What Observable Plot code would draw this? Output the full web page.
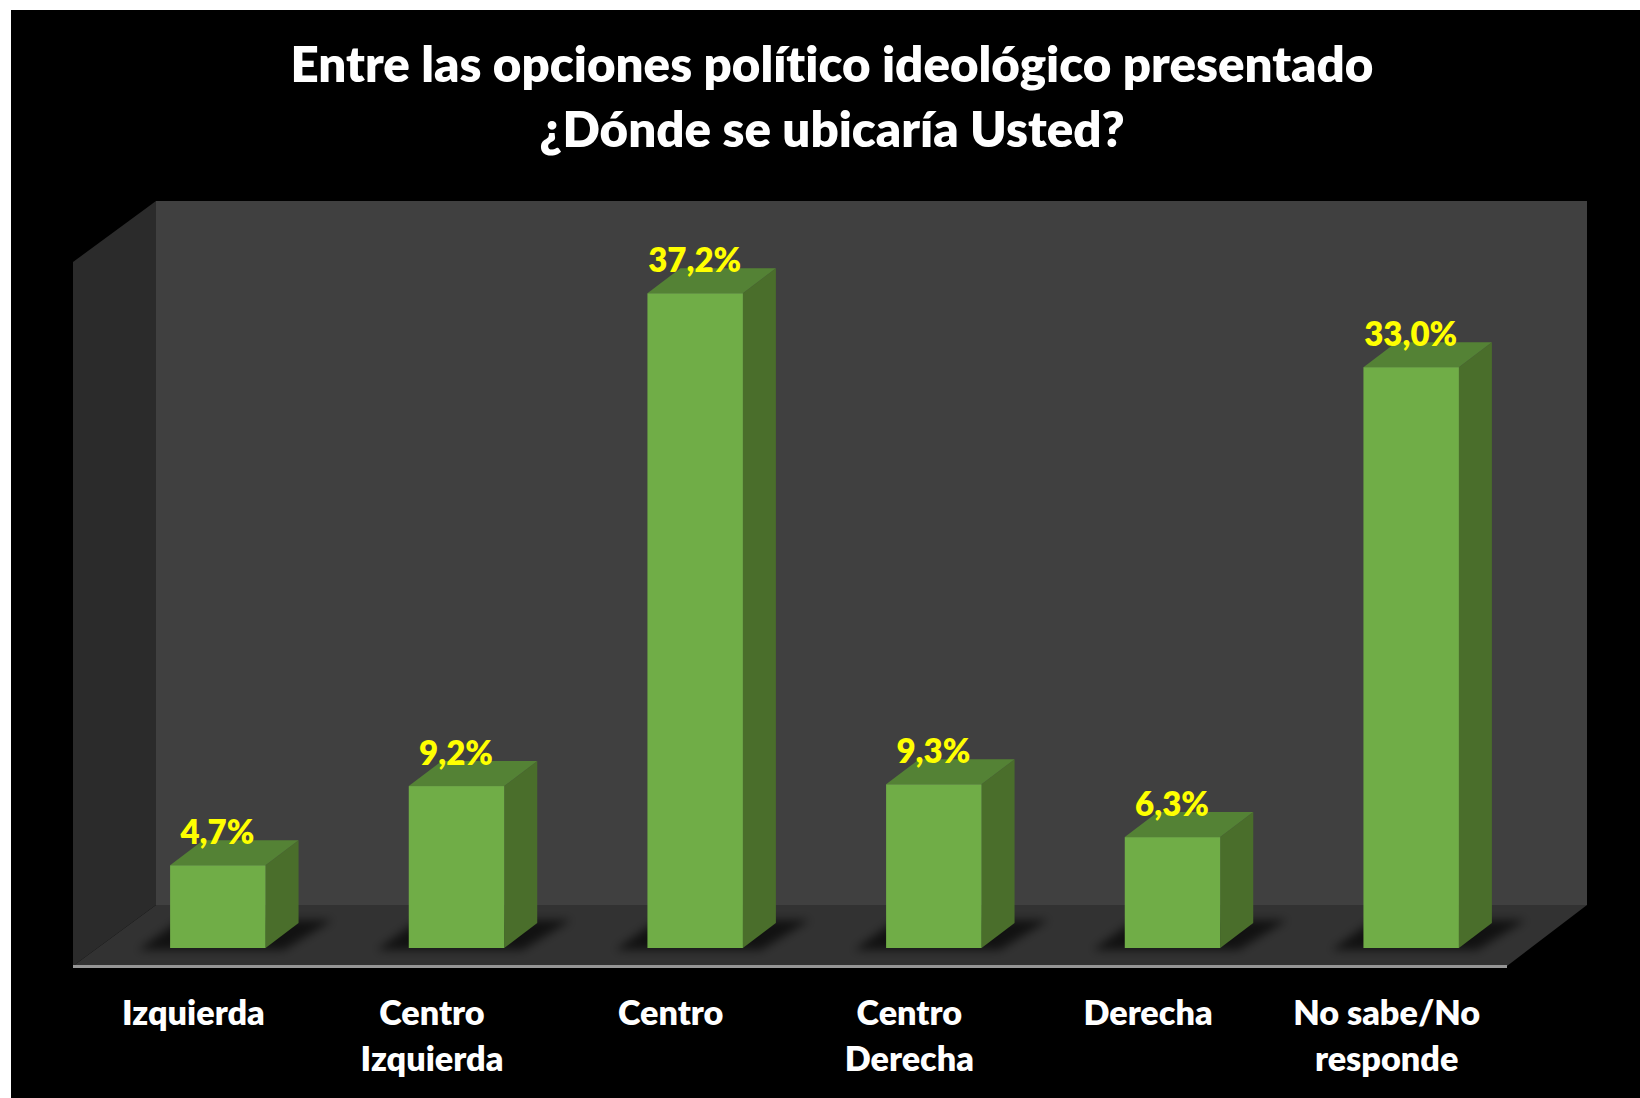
<!DOCTYPE html>
<html lang="es">
<head>
<meta charset="utf-8">
<script src="https://cdn.jsdelivr.net/npm/d3@7"></script>
<script src="https://cdn.jsdelivr.net/npm/@observablehq/plot@0.6"></script>
<style>
  html, body { margin: 0; padding: 0; background: #fff; overflow: hidden; }
  #panel { position: absolute; left: 11px; top: 10px; width: 1629px; height: 1088px; background: #000; }
  #title { position: absolute; left: 0; top: 20px; width: 1642px; text-align: center; color: #fff;
           font: 800 49.25px/65px Lato, sans-serif; margin: 0; font-variant-ligatures: none; }
  #chart { position: absolute; left: 0; top: 180px; font-variant-ligatures: none; }
  #chart svg { display: block; }
</style>
</head>
<body>
<div id="panel">
  <h1 id="title">Entre las opciones político ideológico presentado<br>¿Dónde se ubicaría Usted?</h1>
  <div id="chart"></div>
</div>
<script>
const categories = ["Izquierda", "Centro\nIzquierda", "Centro", "Centro\nDerecha", "Derecha", "No sabe/No\nresponde"];
const values = [4.7, 9.2, 37.2, 9.3, 6.3, 33.0];
const yDomain = [0, 40];

const rows = categories.map((category, i) => ({category, value: values[i]}));
const fmt = v => v.toFixed(1).replace(".", ",") + "%";

// Perspective offsets, in pixels
const wall = {left: 83, right: 80, dy: -61};  // front of the floor -> back wall
const plane = {dx: 25, dy: -18};              // front of the floor -> front of the bars
const depth = {dx: 33, dy: -25};              // thickness of a bar

const poly = (g, pts, fill) => g.append("path")
  .attr("d", "M" + pts.map(p => p.join(",")).join("L") + "Z")
  .attr("fill", fill);

// Walls and floor of the chart box
const room = (index, {y}, values, {marginLeft, width, marginRight}) => {
  const g = d3.create("svg:g");
  const x0 = marginLeft, x1 = width - marginRight, y0 = y(yDomain[0]), yTop = y(yDomain[1]);
  const bl = x0 + wall.left, br = x1 + wall.right;
  poly(g, [[bl, yTop + wall.dy], [br, yTop + wall.dy], [br, y0 + wall.dy], [bl, y0 + wall.dy]], "#404040");
  poly(g, [[x0, yTop], [bl, yTop + wall.dy], [bl, y0 + wall.dy], [x0, y0]], "#2b2b2b");
  poly(g, [[x0, y0], [bl, y0 + wall.dy], [br, y0 + wall.dy], [x1, y0]], "#323232");
  return g.node();
};

// Soft shadows beneath the bars
const shadows = (index, {x, y}) => {
  const g = d3.create("svg:g");
  const f = g.append("defs").append("filter").attr("id", "soft")
    .attr("x", "-30%").attr("y", "-80%").attr("width", "160%").attr("height", "260%");
  f.append("feGaussianBlur").attr("stdDeviation", 5);
  const inner = g.append("g").attr("filter", "url(#soft)");
  for (const c of categories) {
    const l = x(c) + plane.dx, r = l + x.bandwidth(), b = y(0) + plane.dy;
    poly(inner, [[l - 32, b + 2], [r + 18, b + 2], [r + depth.dx + 34, b + depth.dy - 3], [l + 10, b + depth.dy - 3]], "#000").attr("opacity", 0.65);
  }
  return g.node();
};

// Side and top faces of the bars, drawn through the same scales as the fronts
const faces = (index, {x, y}) => {
  const g = d3.create("svg:g");
  for (const {category, value} of rows) {
    const l = x(category) + plane.dx, r = l + x.bandwidth(), b = y(0) + plane.dy, t = y(value) + plane.dy;
    poly(g, [[r, t], [r + depth.dx, t + depth.dy], [r + depth.dx, b + depth.dy], [r, b]], "#4a6e2b");
    poly(g, [[l, t], [l + depth.dx, t + depth.dy], [r + depth.dx, t + depth.dy], [r, t]], "#548235");
  }
  return g.node();
};

const plot = Plot.plot({
  width: 1629, height: 908,
  marginLeft: 62, marginRight: 133, marginTop: 72, marginBottom: 132,
  style: {background: "transparent"},
  x: {domain: categories, range: [62.5, 1494.5], paddingInner: 0.6, paddingOuter: 0.3, round: false, label: null},
  y: {domain: yDomain, axis: null},
  marks: [
    room,
    shadows,
    faces,
    Plot.barY(rows, {x: "category", y: "value", dx: plane.dx, dy: plane.dy, fill: "#70ad47"}),
    Plot.ruleY([0], {stroke: "#969696", strokeWidth: 3}),
    Plot.axisX({
      tickSize: 0, tickPadding: 26, fontSize: 34.2, fontWeight: 800, fontFamily: "Lato, sans-serif",
      fill: "#fff", lineHeight: 1.35, label: null, textOverflow: null
    }),
    Plot.text(rows, {
      x: "category", y: "value", text: d => fmt(d.value),
      dx: 24, dy: -39.5, lineAnchor: "bottom",
      fill: "#ffff00", fontSize: 33, fontWeight: 800, fontFamily: "Lato, sans-serif"
    })
  ]
});
document.getElementById("chart").append(plot);
</script>
</body>
</html>
